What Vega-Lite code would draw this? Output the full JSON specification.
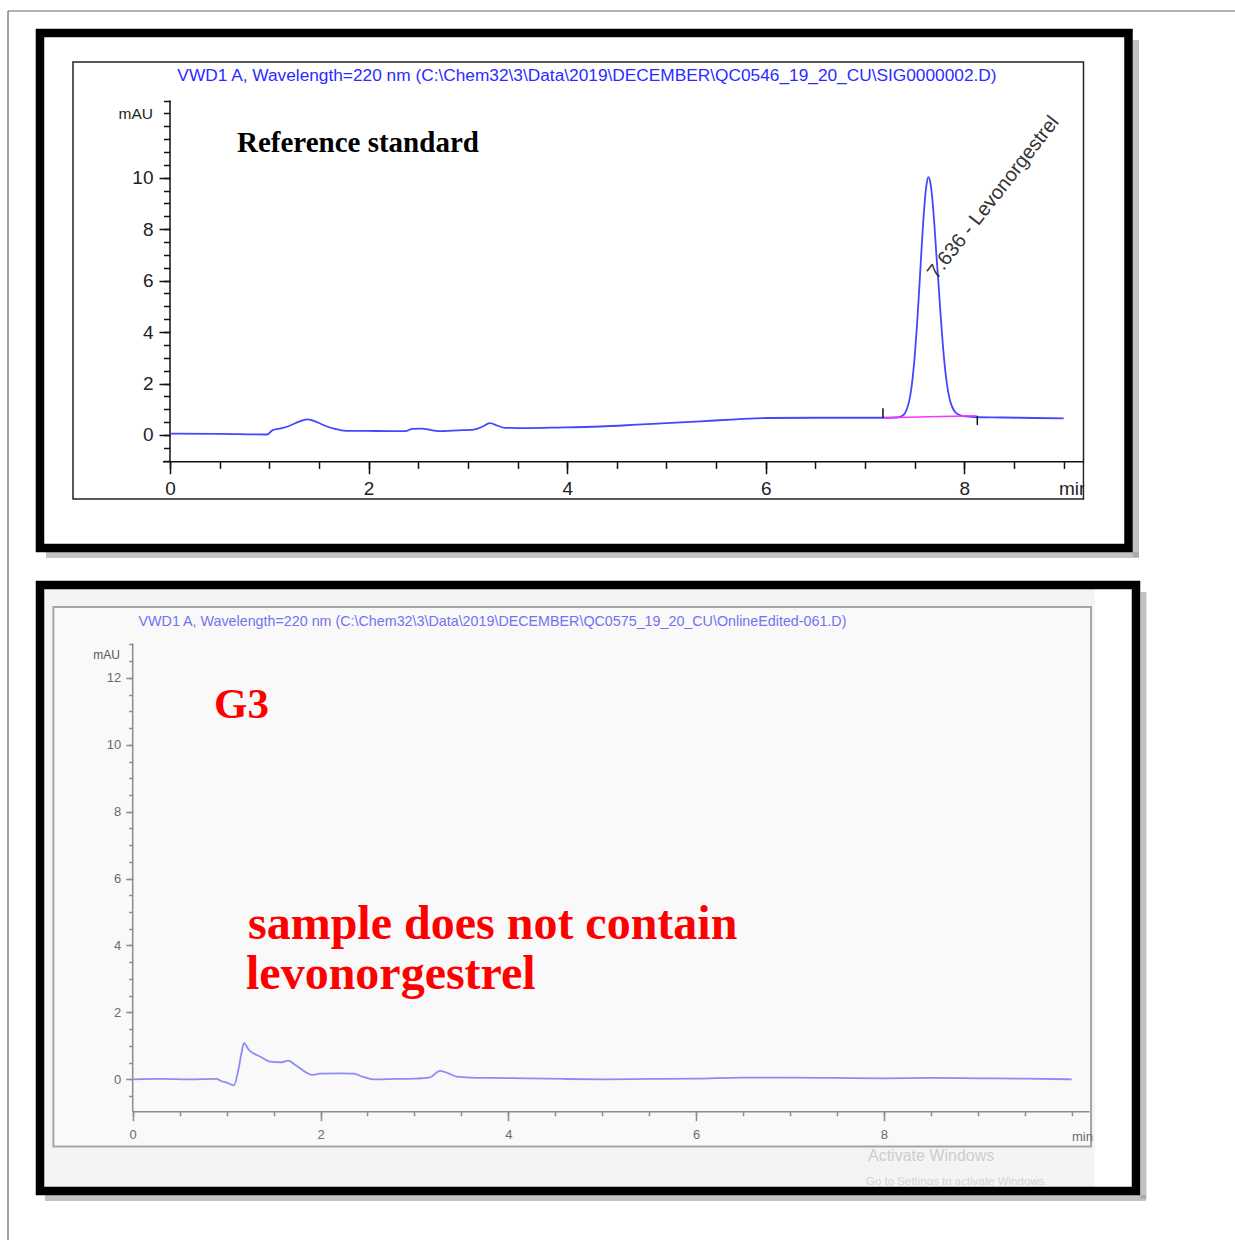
{
  "$schema": "https://vega.github.io/schema/vega-lite/v6.json",
  "width": 1235,
  "height": 1240,
  "padding": 0,
  "autosize": "none",
  "background": "white",
  "config": {"view": {"stroke": null}},
  "datasets": {
    "reference": [
      {"t": 0, "mAU": 0.05}, {"t": 0.5, "mAU": 0.04}, {"t": 0.98, "mAU": 0.02}, {"t": 1.03, "mAU": 0.18},
      {"t": 1.12, "mAU": 0.26}, {"t": 1.2, "mAU": 0.35}, {"t": 1.3, "mAU": 0.52}, {"t": 1.38, "mAU": 0.61},
      {"t": 1.45, "mAU": 0.55}, {"t": 1.55, "mAU": 0.38}, {"t": 1.65, "mAU": 0.25}, {"t": 1.77, "mAU": 0.16},
      {"t": 1.98, "mAU": 0.16}, {"t": 2.2, "mAU": 0.15}, {"t": 2.37, "mAU": 0.15}, {"t": 2.44, "mAU": 0.24},
      {"t": 2.54, "mAU": 0.25}, {"t": 2.62, "mAU": 0.2}, {"t": 2.7, "mAU": 0.15}, {"t": 2.9, "mAU": 0.18},
      {"t": 3.06, "mAU": 0.21}, {"t": 3.15, "mAU": 0.33}, {"t": 3.22, "mAU": 0.46}, {"t": 3.3, "mAU": 0.36},
      {"t": 3.37, "mAU": 0.28}, {"t": 3.6, "mAU": 0.27}, {"t": 3.91, "mAU": 0.29}, {"t": 4.33, "mAU": 0.33},
      {"t": 4.7, "mAU": 0.4}, {"t": 4.95, "mAU": 0.45}, {"t": 5.34, "mAU": 0.53}, {"t": 5.7, "mAU": 0.61},
      {"t": 6.01, "mAU": 0.66}, {"t": 6.5, "mAU": 0.67}, {"t": 7.0, "mAU": 0.67}, {"t": 7.18, "mAU": 0.67},
      {"t": 7.3, "mAU": 0.68}, {"t": 7.34, "mAU": 0.69}, {"t": 7.39, "mAU": 0.79}, {"t": 7.42, "mAU": 1.0},
      {"t": 7.44, "mAU": 1.26}, {"t": 7.46, "mAU": 1.66}, {"t": 7.48, "mAU": 2.26}, {"t": 7.5, "mAU": 3.08},
      {"t": 7.52, "mAU": 4.12}, {"t": 7.54, "mAU": 5.35}, {"t": 7.56, "mAU": 6.67}, {"t": 7.58, "mAU": 7.96},
      {"t": 7.6, "mAU": 9.04}, {"t": 7.62, "mAU": 9.77}, {"t": 7.638, "mAU": 10.02}, {"t": 7.658, "mAU": 9.79},
      {"t": 7.678, "mAU": 9.14}, {"t": 7.698, "mAU": 8.16}, {"t": 7.718, "mAU": 7.0}, {"t": 7.738, "mAU": 5.95},
      {"t": 7.758, "mAU": 4.8}, {"t": 7.778, "mAU": 3.75}, {"t": 7.798, "mAU": 2.85}, {"t": 7.818, "mAU": 2.15},
      {"t": 7.838, "mAU": 1.65}, {"t": 7.858, "mAU": 1.3}, {"t": 7.888, "mAU": 1.0}, {"t": 7.92, "mAU": 0.85},
      {"t": 7.96, "mAU": 0.76}, {"t": 8.02, "mAU": 0.72}, {"t": 8.12, "mAU": 0.69}, {"t": 8.4, "mAU": 0.68},
      {"t": 8.7, "mAU": 0.66}, {"t": 9.0, "mAU": 0.65}
    ],
    "sample": [
      {"t": 0, "mAU": 0.0}, {"t": 0.3, "mAU": 0.01}, {"t": 0.6, "mAU": 0.0}, {"t": 0.894, "mAU": 0.01},
      {"t": 0.94, "mAU": -0.05}, {"t": 1.0, "mAU": -0.1}, {"t": 1.079, "mAU": -0.18}, {"t": 1.125, "mAU": 0.28},
      {"t": 1.16, "mAU": 0.8}, {"t": 1.185, "mAU": 1.09}, {"t": 1.21, "mAU": 1.0}, {"t": 1.231, "mAU": 0.9},
      {"t": 1.285, "mAU": 0.78}, {"t": 1.356, "mAU": 0.68}, {"t": 1.462, "mAU": 0.53}, {"t": 1.587, "mAU": 0.51},
      {"t": 1.657, "mAU": 0.56}, {"t": 1.72, "mAU": 0.45}, {"t": 1.782, "mAU": 0.33}, {"t": 1.85, "mAU": 0.2},
      {"t": 1.906, "mAU": 0.13}, {"t": 1.995, "mAU": 0.17}, {"t": 2.2, "mAU": 0.18}, {"t": 2.349, "mAU": 0.17},
      {"t": 2.456, "mAU": 0.07}, {"t": 2.562, "mAU": 0.0}, {"t": 2.8, "mAU": 0.01}, {"t": 3.0, "mAU": 0.02},
      {"t": 3.166, "mAU": 0.06}, {"t": 3.273, "mAU": 0.25}, {"t": 3.361, "mAU": 0.18}, {"t": 3.45, "mAU": 0.08},
      {"t": 3.6, "mAU": 0.05}, {"t": 3.805, "mAU": 0.04}, {"t": 4.2, "mAU": 0.03}, {"t": 4.6, "mAU": 0.01},
      {"t": 5.0, "mAU": 0.0}, {"t": 5.5, "mAU": 0.01}, {"t": 6.0, "mAU": 0.02}, {"t": 6.5, "mAU": 0.05},
      {"t": 7.0, "mAU": 0.05}, {"t": 7.5, "mAU": 0.04}, {"t": 8.0, "mAU": 0.03}, {"t": 8.5, "mAU": 0.04},
      {"t": 9.0, "mAU": 0.03}, {"t": 9.5, "mAU": 0.02}, {"t": 10.0, "mAU": 0.0}
    ]
  },
  "layer": [
    {
      "data": {"values": [{}]},
      "resolve": {"axis": {"x": "independent", "y": "independent"}},
      "layer": [
        {
          "mark": {"type": "rule", "color": "#666666", "strokeWidth": 1.2},
          "encoding": {"x": {"datum": -1.6314, "axis": null}, "x2": {"datum": 10.876}, "y": {"datum": 16.479, "axis": null}}
        },
        {
          "mark": {"type": "rule", "color": "#666666", "strokeWidth": 1.2},
          "encoding": {"x": {"datum": -1.6314, "axis": null}, "y": {"datum": 16.479, "axis": null}, "y2": {"datum": -31.675}}
        },
        {
          "mark": {"type": "rule", "color": "#9a9a9a", "strokeWidth": 6, "opacity": 0.6},
          "encoding": {"x": {"datum": 9.728, "axis": null}, "y": {"datum": 15.352, "axis": null}, "y2": {"datum": -4.741}}
        },
        {
          "mark": {"type": "rule", "color": "#9a9a9a", "strokeWidth": 6, "opacity": 0.6},
          "encoding": {"x": {"datum": -1.2487, "axis": null}, "x2": {"datum": 9.758}, "y": {"datum": -4.664, "axis": null}}
        },
        {
          "mark": {"type": "rect", "fill": "transparent", "stroke": "#000000", "strokeWidth": 8.5},
          "encoding": {"x": {"datum": -1.3092, "axis": null}, "x2": {"datum": 9.6526}, "y": {"datum": 15.6238, "axis": null}, "y2": {"datum": -4.3918}}
        },
        {
          "mark": {"type": "rect", "fill": "transparent", "stroke": "#222222", "strokeWidth": 1.5},
          "encoding": {"x": {"datum": -0.9768, "axis": null}, "x2": {"datum": 9.1994}, "y": {"datum": 14.4967, "axis": null}, "y2": {"datum": -2.4874}}
        },
        {
          "mark": {"type": "text", "text": "min", "font": "Liberation Sans", "fontSize": 19, "color": "#222222", "align": "left", "baseline": "alphabetic"},
          "encoding": {"x": {"datum": 8.9527, "axis": null}, "y": {"datum": -2.3319, "axis": null}}
        },
        {
          "mark": {"type": "rect", "fill": "white", "stroke": null},
          "encoding": {"x": {"datum": 9.2105, "axis": null}, "x2": {"datum": 9.597}, "y": {"datum": -1.088, "axis": null}, "y2": {"datum": -2.429}}
        },
        {
          "mark": {"type": "rule", "color": "#111111", "strokeWidth": 1.5},
          "encoding": {
            "x": {"datum": 0, "axis": null},
            "y": {"datum": -1.04, "axis": {
              "orient": "left", "offset": -170, "title": null, "domain": false, "grid": false, "labels": false,
              "values": [-1, -0.5, 0, 0.5, 1, 1.5, 2, 2.5, 3, 3.5, 4, 4.5, 5, 5.5, 6, 6.5, 7, 7.5, 8, 8.5, 9, 9.5, 10, 10.5, 11, 11.5, 12, 12.5, 13],
              "tickSize": 6.5, "tickColor": "#111111", "tickWidth": 1.5, "zindex": 0
            }},
            "y2": {"datum": 13.0}
          }
        },
        {
          "mark": {"type": "rule", "color": "#111111", "strokeWidth": 1.5},
          "encoding": {
            "x": {"datum": -0.0705, "axis": {
              "orient": "bottom", "offset": -778.3, "title": null, "domain": false, "grid": false, "labels": false,
              "values": [0, 0.5, 1, 1.5, 2, 2.5, 3, 3.5, 4, 4.5, 5, 5.5, 6, 6.5, 7, 7.5, 8, 8.5, 9],
              "tickSize": 6.7, "tickColor": "#111111", "tickWidth": 1.5, "zindex": 0
            }},
            "x2": {"datum": 9.1994},
            "y": {"datum": -1.04, "axis": null}
          }
        },
        {
          "data": {"name": "reference"},
          "mark": {"type": "line", "color": "#4646ff", "strokeWidth": 1.8, "interpolate": "monotone"},
          "encoding": {
            "x": {
              "field": "t", "type": "quantitative",
              "scale": {"domain": [-1.71198, 10.72508], "nice": false, "zero": false},
              "axis": {
                "orient": "bottom", "offset": -778.3, "title": null, "domain": false, "grid": false,
                "values": [0, 2, 4, 6, 8],
                "tickSize": 12, "tickColor": "#111111", "tickWidth": 1.5, "labelPadding": 6,
                "labelFont": "Liberation Sans", "labelFontSize": 19,
                "labelColor": "#222222", "labelOverlap": false, "labelFlush": false, "labelBound": false, "zindex": 0
              }
            },
            "y": {
              "field": "mAU", "type": "quantitative",
              "scale": {"domain": [-31.2864, 16.9063], "nice": false, "zero": false},
              "axis": {
                "orient": "left", "offset": -170, "title": null, "domain": false, "grid": false,
                "values": [0, 2, 4, 6, 8, 10],
                "tickSize": 11, "tickColor": "#111111", "tickWidth": 1.5, "labelPadding": 6,
                "labelFont": "Liberation Sans", "labelFontSize": 19,
                "labelColor": "#222222", "labelOverlap": false, "labelFlush": false, "labelBound": false, "zindex": 0
              }
            }
          }
        },
        {
          "mark": {"type": "rule", "color": "#ff33ff", "strokeWidth": 1.6},
          "encoding": {"x": {"datum": 7.18, "axis": null}, "x2": {"datum": 8.12}, "y": {"datum": 0.67, "axis": null}, "y2": {"datum": 0.75}}
        },
        {
          "mark": {"type": "rule", "color": "#111111", "strokeWidth": 1.5},
          "encoding": {"x": {"datum": 7.18, "axis": null}, "y": {"datum": 0.67, "axis": null}, "y2": {"datum": 1.04}}
        },
        {
          "mark": {"type": "rule", "color": "#111111", "strokeWidth": 1.5},
          "encoding": {"x": {"datum": 8.13, "axis": null}, "y": {"datum": 0.39, "axis": null}, "y2": {"datum": 0.75}}
        },
        {
          "mark": {"type": "text", "text": "VWD1 A, Wavelength=220 nm (C:\\Chem32\\3\\Data\\2019\\DECEMBER\\QC0546_19_20_CU\\SIG0000002.D)", "font": "Liberation Sans", "fontSize": 17.3, "color": "#2b2bff", "align": "center", "baseline": "middle"},
          "encoding": {"x": {"datum": 4.199, "axis": null}, "y": {"datum": 13.953, "axis": null}}
        },
        {
          "mark": {"type": "text", "text": "Reference standard", "font": "Liberation Serif", "fontWeight": "bold", "fontSize": 29, "color": "#000000", "align": "left", "baseline": "alphabetic"},
          "encoding": {"x": {"datum": 0.6747, "axis": null}, "y": {"datum": 11.011, "axis": null}}
        },
        {
          "mark": {"type": "text", "text": "mAU", "font": "Liberation Sans", "fontSize": 15.5, "color": "#222222", "align": "right", "baseline": "middle"},
          "encoding": {"x": {"datum": -0.1712, "axis": null}, "y": {"datum": 12.476, "axis": null}}
        },
        {
          "mark": {"type": "text", "text": "7.636 - Levonorgestrel", "font": "Liberation Sans", "fontSize": 20, "color": "#333333", "align": "left", "baseline": "alphabetic", "angle": -52},
          "encoding": {"x": {"datum": 7.72, "axis": null}, "y": {"datum": 6.024, "axis": null}}
        }
      ]
    },
    {
      "data": {"values": [{}]},
      "resolve": {"axis": {"x": "independent", "y": "independent"}},
      "layer": [
        {
          "mark": {"type": "rect", "fill": "#f4f4f4", "stroke": null},
          "encoding": {"x": {"datum": -0.9446, "axis": null}, "x2": {"datum": 10.2471}, "y": {"datum": 14.6577, "axis": null}, "y2": {"datum": -3.2168}}
        },
        {
          "mark": {"type": "rect", "fill": "#f9f9f9", "stroke": "#a5a5a5", "strokeWidth": 2},
          "encoding": {"x": {"datum": -0.8445, "axis": null}, "x2": {"datum": 10.2055}, "y": {"datum": 14.1196, "axis": null}, "y2": {"datum": -2.009}}
        },
        {
          "mark": {"type": "rule", "color": "#9a9a9a", "strokeWidth": 6, "opacity": 0.6},
          "encoding": {"x": {"datum": 10.7646, "axis": null}, "y": {"datum": 14.568, "axis": null}, "y2": {"datum": -3.5785}}
        },
        {
          "mark": {"type": "rule", "color": "#9a9a9a", "strokeWidth": 6, "opacity": 0.6},
          "encoding": {"x": {"datum": -0.934, "axis": null}, "x2": {"datum": 10.791}, "y": {"datum": -3.5486, "axis": null}}
        },
        {
          "mark": {"type": "rect", "fill": "transparent", "stroke": "#000000", "strokeWidth": 8.5},
          "encoding": {"x": {"datum": -0.9872, "axis": null}, "x2": {"datum": 10.6848}, "y": {"datum": 14.7773, "axis": null}, "y2": {"datum": -3.3393}}
        },
        {
          "mark": {"type": "rule", "color": "#8c8c8c", "strokeWidth": 1.5},
          "encoding": {
            "x": {"datum": 0, "axis": null},
            "y": {"datum": -0.9686, "axis": {
              "orient": "left", "offset": -132.7, "title": null, "domain": false, "grid": false, "labels": false,
              "values": [-0.5, 0, 0.5, 1, 1.5, 2, 2.5, 3, 3.5, 4, 4.5, 5, 5.5, 6, 6.5, 7, 7.5, 8, 8.5, 9, 9.5, 10, 10.5, 11, 11.5, 12, 12.5, 13],
              "tickSize": 4, "tickColor": "#8c8c8c", "tickWidth": 1.5, "zindex": 1
            }},
            "y2": {"datum": 13.025}
          }
        },
        {
          "mark": {"type": "rule", "color": "#8c8c8c", "strokeWidth": 1.5},
          "encoding": {
            "x": {"datum": 0, "axis": {
              "orient": "bottom", "offset": -128.3, "title": null, "domain": false, "grid": false, "labels": false,
              "values": [0, 0.5, 1, 1.5, 2, 2.5, 3, 3.5, 4, 4.5, 5, 5.5, 6, 6.5, 7, 7.5, 8, 8.5, 9, 9.5, 10],
              "tickSize": 4, "tickColor": "#8c8c8c", "tickWidth": 1.5, "zindex": 1
            }},
            "x2": {"datum": 10.19},
            "y": {"datum": -0.9686, "axis": null}
          }
        },
        {
          "data": {"name": "sample"},
          "mark": {"type": "line", "color": "#8c8cf2", "strokeWidth": 1.8, "interpolate": "monotone"},
          "encoding": {
            "x": {
              "field": "t", "type": "quantitative",
              "scale": {"domain": [-1.41321, 11.73909], "nice": false, "zero": false},
              "axis": {
                "orient": "bottom", "offset": -128.3, "title": null, "domain": false, "grid": false,
                "values": [0, 2, 4, 6, 8],
                "tickSize": 9, "tickColor": "#8c8c8c", "tickWidth": 1.5, "labelPadding": 8,
                "labelFont": "Liberation Sans", "labelFontSize": 13,
                "labelColor": "#6a6a6a", "labelOverlap": false, "labelFlush": false, "labelBound": false, "zindex": 1
              }
            },
            "y": {
              "field": "mAU", "type": "quantitative",
              "scale": {"domain": [-4.80419, 32.26607], "nice": false, "zero": false},
              "axis": {
                "orient": "left", "offset": -132.7, "title": null, "domain": false, "grid": false,
                "values": [0, 2, 4, 6, 8, 10, 12],
                "tickSize": 7, "tickColor": "#8c8c8c", "tickWidth": 1.5, "labelPadding": 5,
                "labelFont": "Liberation Sans", "labelFontSize": 13,
                "labelColor": "#6a6a6a", "labelOverlap": false, "labelFlush": false, "labelBound": false, "zindex": 1
              }
            }
          }
        },
        {
          "mark": {"type": "text", "text": "min", "font": "Liberation Sans", "fontSize": 13, "color": "#6a6a6a", "align": "left", "baseline": "alphabetic"},
          "encoding": {"x": {"datum": 10.0032, "axis": null}, "y": {"datum": -1.8445, "axis": null}}
        },
        {
          "mark": {"type": "text", "text": "VWD1 A, Wavelength=220 nm (C:\\Chem32\\3\\Data\\2019\\DECEMBER\\QC0575_19_20_CU\\OnlineEdited-061.D)", "font": "Liberation Sans", "fontSize": 14.3, "color": "#5b5bf0", "opacity": 0.85, "align": "center", "baseline": "middle"},
          "encoding": {"x": {"datum": 3.8317, "axis": null}, "y": {"datum": 13.671, "axis": null}}
        },
        {
          "mark": {"type": "text", "text": "mAU", "font": "Liberation Sans", "fontSize": 12, "color": "#555555", "align": "right", "baseline": "middle"},
          "encoding": {"x": {"datum": -0.1353, "axis": null}, "y": {"datum": 12.685, "axis": null}}
        },
        {
          "mark": {"type": "text", "text": "G3", "font": "Liberation Serif", "fontWeight": "bold", "fontSize": 43, "color": "#ff0000", "align": "left", "baseline": "alphabetic"},
          "encoding": {"x": {"datum": 0.8658, "axis": null}, "y": {"datum": 10.8012, "axis": null}}
        },
        {
          "mark": {"type": "text", "text": "sample does not contain", "font": "Liberation Serif", "fontWeight": "bold", "fontSize": 48, "color": "#ff0000", "align": "left", "baseline": "alphabetic"},
          "encoding": {"x": {"datum": 1.2279, "axis": null}, "y": {"datum": 4.1943, "axis": null}}
        },
        {
          "mark": {"type": "text", "text": "levonorgestrel", "font": "Liberation Serif", "fontWeight": "bold", "fontSize": 48, "color": "#ff0000", "align": "left", "baseline": "alphabetic"},
          "encoding": {"x": {"datum": 1.2066, "axis": null}, "y": {"datum": 2.6996, "axis": null}}
        },
        {
          "mark": {"type": "text", "text": "Activate Windows", "font": "Liberation Sans", "fontSize": 16, "color": "#cdcdcd", "align": "left", "baseline": "alphabetic"},
          "encoding": {"x": {"datum": 7.8307, "axis": null}, "y": {"datum": -2.4425, "axis": null}}
        },
        {
          "mark": {"type": "text", "text": "Go to Settings to activate Windows.", "font": "Liberation Sans", "fontSize": 11.5, "color": "#d3d3d3", "align": "left", "baseline": "alphabetic"},
          "encoding": {"x": {"datum": 7.8094, "axis": null}, "y": {"datum": -3.16, "axis": null}}
        }
      ]
    }
  ],
  "resolve": {"scale": {"x": "independent", "y": "independent"}}
}
